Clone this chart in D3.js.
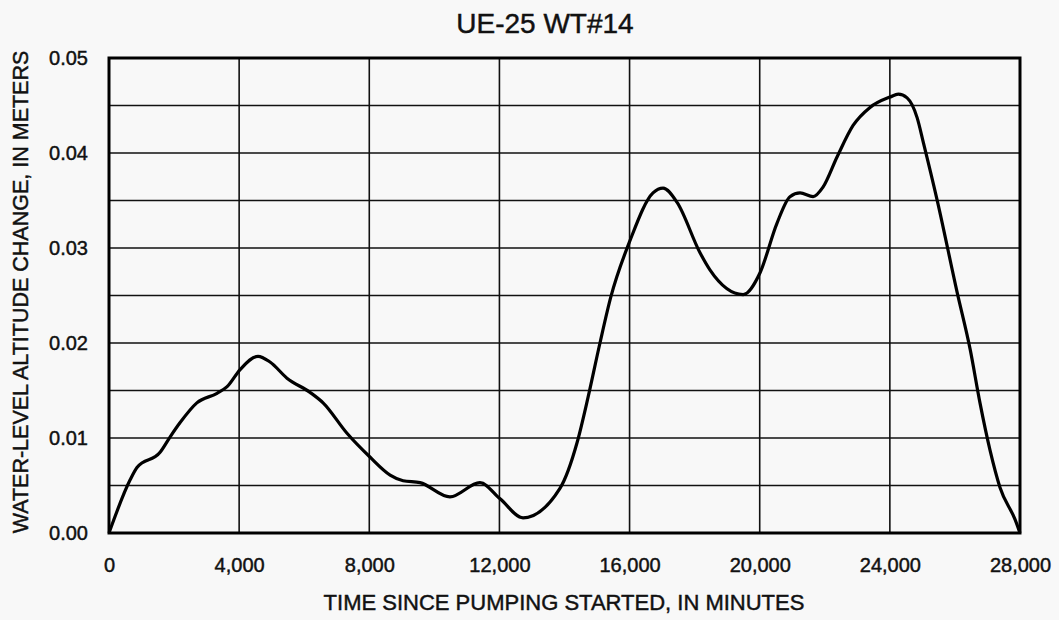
<!DOCTYPE html>
<html><head><meta charset="utf-8">
<script src="https://cdn.jsdelivr.net/npm/d3@7"></script>
<style>
html,body{margin:0;padding:0;background:#f8f8f8;}
svg{display:block;}
text{font-family:"Liberation Sans",Arial,Helvetica,sans-serif;fill:#111;stroke:#111;stroke-width:0.45px;}
</style></head>
<body>
<svg id="c" width="1059" height="620"></svg>
<script>
const title = "UE-25 WT#14";
const xLabel = "TIME SINCE PUMPING STARTED, IN MINUTES";
const yLabel = "WATER-LEVEL ALTITUDE CHANGE, IN METERS";
const xTicks = [0, 4000, 8000, 12000, 16000, 20000, 24000, 28000];
const yTicks = [0, 0.01, 0.02, 0.03, 0.04, 0.05];
const yGrid = [0.005, 0.01, 0.015, 0.02, 0.025, 0.03, 0.035, 0.04, 0.045];
const timeMin = [0,650,860,1570,1875,2180,2700,3320,3630,4030,4580,4950,5470,6180,6580,7315,8020,8640,9040,9560,10480,11400,12020,12725,13860,14385,14725,15090,15420,16015,16720,17030,17460,18165,18470,19490,20010,20530,20930,21240,21640,21945,22380,22870,23390,24010,24260,24530,24840,25030,25450,26070,26470,26770,27080,27385,27850,28000];
const change = [0,0.0056,0.0069,0.0085,0.0101,0.0116,0.0137,0.0147,0.0154,0.0172,0.0186,0.0180,0.0163,0.0148,0.0137,0.0105,0.0080,0.0061,0.0055,0.0053,0.0038,0.0053,0.0036,0.0016,0.0047,0.0095,0.0143,0.0200,0.0248,0.0308,0.0358,0.0363,0.0348,0.0295,0.0277,0.0251,0.0274,0.0326,0.0354,0.0358,0.0354,0.0364,0.0396,0.0429,0.0448,0.0459,0.0462,0.0458,0.0437,0.0411,0.0351,0.0253,0.0193,0.0137,0.0087,0.0048,0.0014,0];

const L=109, R=1020, T=58, B=533;
const svg = d3.select("#c");
const x = d3.scaleLinear().domain([0,28000]).range([L,R]);
const y = d3.scaleLinear().domain([0,0.05]).range([B,T]);

// grid
svg.append("g").selectAll("line").data(xTicks.slice(1,-1)).join("line")
  .attr("x1",d=>x(d)).attr("x2",d=>x(d)).attr("y1",T).attr("y2",B)
  .attr("stroke","#111").attr("stroke-width",1.6);
svg.append("g").selectAll("line").data(yGrid).join("line")
  .attr("y1",d=>y(d)).attr("y2",d=>y(d)).attr("x1",L).attr("x2",R)
  .attr("stroke","#111").attr("stroke-width",1.6);

// axes (labels only)
const xa = svg.append("g").attr("transform",`translate(0,${B})`)
  .call(d3.axisBottom(x).tickValues(xTicks).tickFormat(d3.format(",")).tickSize(0).tickPadding(25));
xa.select(".domain").remove();
xa.selectAll("text").style("font-size","20px").attr("fill","#111");
const ya = svg.append("g").attr("transform",`translate(${L},0)`)
  .call(d3.axisLeft(y).tickValues(yTicks).tickFormat(d3.format(".2f")).tickSize(0).tickPadding(21));
ya.select(".domain").remove();
ya.selectAll("text").style("font-size","20px").attr("fill","#111");

// frame
svg.append("rect").attr("x",L).attr("y",T).attr("width",R-L).attr("height",B-T)
  .attr("fill","none").attr("stroke","#000").attr("stroke-width",3);

// curve
const pts = timeMin.map((t,i)=>[t,change[i]]);
svg.append("path").datum(pts)
  .attr("d", d3.line().x(d=>x(d[0])).y(d=>y(d[1])).curve(d3.curveMonotoneX))
  .attr("fill","none").attr("stroke","#000").attr("stroke-width",3.2).attr("stroke-linejoin","round");

// titles
svg.append("text").attr("x",545).attr("y",33).attr("text-anchor","middle")
  .style("font-size","28px").text(title);
svg.append("text").attr("x",564).attr("y",610).attr("text-anchor","middle")
  .style("font-size","22px").text(xLabel);
svg.append("text").attr("transform","translate(28,292) rotate(-90)").attr("text-anchor","middle")
  .style("font-size","21.5px").text(yLabel);
</script>
</body></html>
